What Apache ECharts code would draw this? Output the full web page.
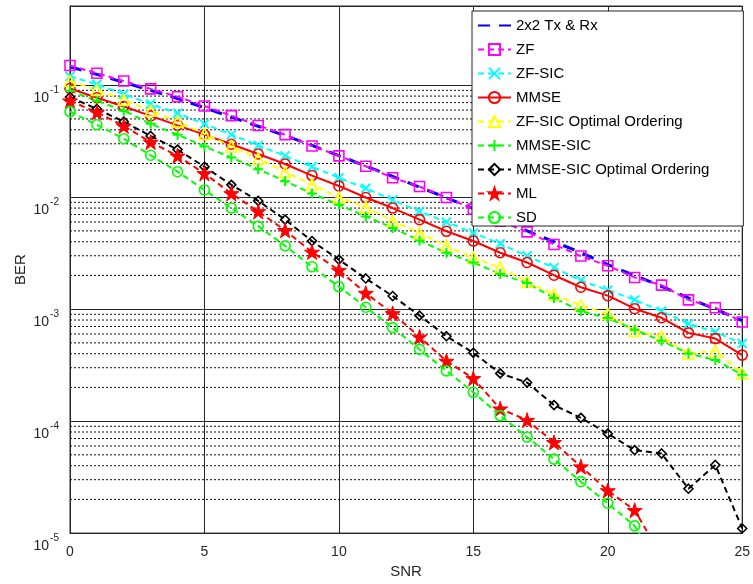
<!DOCTYPE html>
<html>
<head>
<meta charset="utf-8">
<script src="https://cdn.jsdelivr.net/npm/echarts@6/dist/echarts.min.js"></script>
<style>
html,body{margin:0;padding:0;background:#fff;}
#chart{width:753px;height:584px;}
</style>
</head>
<body>
<div id="chart"></div>
<script>
// ---- data ----
const snr = [0,1,2,3,4,5,6,7,8,9,10,11,12,13,14,15,16,17,18,19,20,21,22,23,24,25];
const xTicks = [0,5,10,15,20,25];
const theory = [0.146,0.125,0.106,0.090,0.076,0.063,0.052,0.043,0.0355,0.029,0.0235,0.019,0.0153,0.0123,0.0099,0.0079,0.0063,0.0050,0.0040,0.0032,0.0025,0.0020,0.0016,0.00126,0.0010,0.00079];
const zf = [0.150,0.128,0.109,0.0927,0.0789,0.0652,0.0535,0.0437,0.0362,0.0287,0.0234,0.0189,0.0149,0.01245,0.00993,0.00783,0.00610,0.00490,0.00378,0.00298,0.00244,0.00192,0.00164,0.00121,0.00103,0.000767];
const zfSic = [0.120,0.102,0.0832,0.0679,0.0562,0.0452,0.0362,0.0290,0.0234,0.0187,0.0149,0.0120,0.00946,0.00746,0.00601,0.00480,0.00384,0.00298,0.00235,0.00180,0.00148,0.00121,0.000959,0.000741,0.000625,0.000493];
const mmse = [0.0936,0.0774,0.0646,0.0532,0.0438,0.0362,0.0297,0.0243,0.0198,0.0156,0.0126,0.00993,0.00800,0.00630,0.00496,0.00406,0.00319,0.00261,0.00201,0.00157,0.00132,0.00101,0.000838,0.000614,0.000546,0.000389];
const zfSicOO = [0.109,0.0908,0.0741,0.0593,0.0473,0.0368,0.0284,0.0221,0.0168,0.0130,0.00993,0.00811,0.00616,0.00480,0.00367,0.00288,0.00235,0.00176,0.00135,0.00108,0.000907,0.000638,0.000573,0.000402,0.000423,0.000267];
const mmseSic = [0.0891,0.0726,0.0593,0.0452,0.0362,0.0284,0.0226,0.0178,0.0139,0.0108,0.00855,0.00674,0.00532,0.00410,0.00319,0.00261,0.00206,0.00171,0.00126,0.000959,0.000832,0.000656,0.000521,0.000402,0.000352,0.000259];
const mmseSicOO = [0.0783,0.0614,0.0473,0.0352,0.0266,0.0187,0.0129,0.00927,0.00630,0.00406,0.00277,0.00188,0.00131,0.000875,0.000573,0.000408,0.000267,0.000221,0.000139,0.000107,0.0000773,0.0000551,0.0000514,0.0000249,0.0000406,0.0000110];
const ml = [0.0726,0.0573,0.0432,0.0311,0.0234,0.0163,0.0108,0.00746,0.00506,0.00324,0.00223,0.00139,0.000916,0.000565,0.000344,0.000241,0.000129,0.000102,0.0000646,0.0000392,0.0000240,0.0000160,0.0000062];
const sd = [0.0581,0.0443,0.0333,0.0237,0.0169,0.0116,0.00800,0.00551,0.00368,0.00239,0.00159,0.00104,0.000684,0.000437,0.000281,0.000181,0.000112,0.0000721,0.0000458,0.0000288,0.0000185,0.0000116,0.0000045];
const names = ['2x2 Tx & Rx','ZF','ZF-SIC','MMSE','ZF-SIC Optimal Ordering','MMSE-SIC','MMSE-SIC Optimal Ordering','ML','SD'];

// ---- helpers ----
const FONT = 'Liberation Sans, Arial, Helvetica, sans-serif';
const X_MIN = xTicks[0], X_MAX = xTicks[xTicks.length-1];
function pairs(vals){ return vals.map((v,i)=>[snr[i], v]); }
const minorVals = [];
for (let e = -5; e <= -2; e++) { for (let m = 2; m <= 9; m++) minorVals.push(m * Math.pow(10, e)); }

const P_X = 'path://M0,0L10,10M10,0L0,10';
const P_PLUS = 'path://M5,0L5,10M0,5L10,5';
const P_STAR = 'path://M50,0L61.2,34.5L97.6,34.5L68.2,55.9L79.4,90.5L50,69.1L20.6,90.5L31.8,55.9L2.4,34.5L38.8,34.5Z';
const DASH = [6,4];
const CLEAR = 'rgba(0,0,0,0)';

function mk(name, vals, color, symbol, size, opts){
  opts = opts || {};
  let itemStyle;
  if (opts.hidden) itemStyle = {color: CLEAR, borderColor: CLEAR, borderWidth: 0};
  else if (opts.filled) itemStyle = {color: color, borderColor: color, borderWidth: 1};
  else itemStyle = {color: CLEAR, borderColor: color, borderWidth: opts.bw || 1.6};
  return {
    name: name, type: 'line', data: pairs(vals), color: color,
    symbol: symbol, symbolSize: size, showSymbol: !opts.hidden,
    clip: true, z: 3,
    lineStyle: {color: color, width: opts.width || 2, type: opts.solid ? 'solid' : (opts.dash || DASH)},
    itemStyle: itemStyle,
    emphasis: {disabled: true}
  };
}

// minor (dotted) grid lines at 2..9 x 10^k
const series = minorVals.map((v, i) => ({
  name: '_g' + i, type: 'line', data: [[X_MIN, v], [X_MAX, v]], z: 1, silent: true,
  symbol: 'none', showSymbol: false,
  lineStyle: {type: [2,2], color: '#111', width: 1},
  emphasis: {disabled: true}
}));

series.push(
  mk(names[0], theory, '#0000ff', 'circle', 0, {width: 3, dash: [12,9], hidden: true}),
  mk(names[1], zf, '#ff00ff', 'rect', 10),
  mk(names[2], zfSic, '#00ffff', P_X, 9, {bw: 2}),
  mk(names[3], mmse, '#ff0000', 'circle', 10, {solid: true}),
  mk(names[4], zfSicOO, '#ffff00', 'triangle', 11),
  mk(names[5], mmseSic, '#00ff00', P_PLUS, 10, {bw: 2}),
  mk(names[6], mmseSicOO, '#000000', 'diamond', 9),
  mk(names[7], ml, '#ff0000', P_STAR, 15, {filled: true}),
  mk(names[8], sd, '#00ff00', 'circle', 10)
);

const chart = echarts.init(document.getElementById('chart'), null, {renderer: 'canvas'});
chart.setOption({
  animation: false,
  backgroundColor: '#fff',
  textStyle: {fontFamily: FONT},
  grid: {left: 70, right: 6, top: 6, bottom: 46, show: true, borderColor: '#262626', borderWidth: 1, backgroundColor: '#fff'},
  xAxis: {
    type: 'value', min: X_MIN, max: X_MAX, interval: 5,
    name: 'SNR', nameLocation: 'middle', nameGap: 29,
    nameTextStyle: {fontSize: 15, color: '#262626', fontFamily: FONT},
    axisLine: {show: true, lineStyle: {color: '#262626'}},
    axisTick: {show: false},
    axisLabel: {fontSize: 14, color: '#262626', margin: 12, fontFamily: FONT},
    splitLine: {show: true, lineStyle: {color: '#262626', width: 1, type: 'solid'}}
  },
  yAxis: {
    type: 'log', logBase: 10, min: 1e-5, max: 0.51,
    name: 'BER', nameLocation: 'middle', nameGap: 42, nameMoveOverlap: false,
    nameTextStyle: {fontSize: 15, color: '#262626', fontFamily: FONT},
    axisLine: {show: true, lineStyle: {color: '#262626'}},
    axisTick: {show: false},
    axisLabel: {
      showMaxLabel: false, margin: 11, color: '#262626', fontFamily: FONT,
      padding: [26, 0, 0, 0],
      formatter: function(v){
        const e = Math.round(Math.log10(v));
        if (Math.abs(Math.log10(v) - e) > 0.01) return '';
        return '{b|10}{s|' + e + '}';
      },
      rich: {
        b: {fontSize: 14, lineHeight: 14, color: '#262626', fontFamily: FONT, padding: [12,0,0,0], verticalAlign: 'bottom'},
        s: {fontSize: 10, lineHeight: 10, color: '#262626', fontFamily: FONT, padding: [0,0,10,1], verticalAlign: 'bottom'}
      }
    },
    splitLine: {show: true, lineStyle: {color: '#262626', width: 1, type: 'solid'}}
  },
  legend: {
    data: names, orient: 'vertical', left: 472, top: 11,
    itemWidth: 33, itemHeight: 14, itemGap: 9,
    padding: [7, 34, 1, 5],
    backgroundColor: '#fff', borderColor: '#262626', borderWidth: 1,
    textStyle: {fontSize: 15, color: '#000', fontFamily: FONT, lineHeight: 14},
    selectedMode: false, z: 10
  },
  series: series
});
</script>
</body>
</html>
